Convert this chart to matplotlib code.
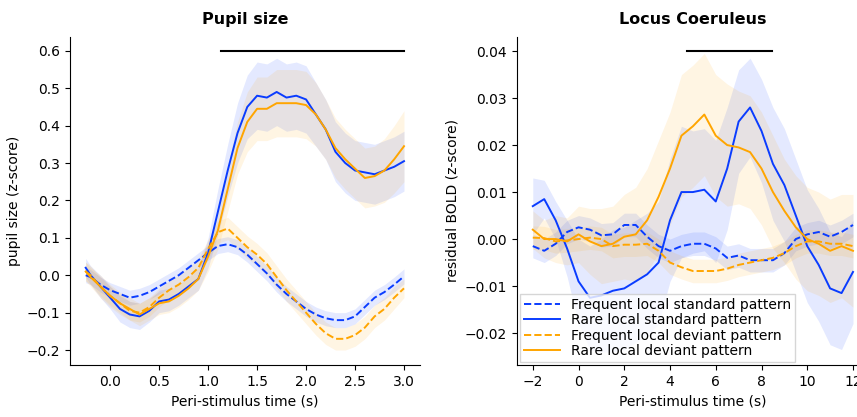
import numpy as np
import matplotlib
matplotlib.use("Agg")
import matplotlib.pyplot as plt  # noqa: E402

BLUE = "#0a3cff"
ORANGE = "#ffa500"

# --- pupil size (time step 0.1 s) ---
pupil_t = np.round(np.arange(-0.2, 3.01, 0.1), 2)
pupil_t = np.concatenate([[-0.25], pupil_t])

pupil_freq_std = [0.0, -0.005, -0.025, -0.04, -0.05, -0.06, -0.055, -0.045, -0.03, -0.015, 0.0,
                  0.02, 0.04, 0.06, 0.078, 0.083, 0.075, 0.055, 0.03, 0.005, -0.025, -0.05,
                  -0.07, -0.09, -0.105, -0.115, -0.12, -0.12, -0.11, -0.085, -0.06, -0.045,
                  -0.025, -0.003]
pupil_rare_std = [0.02, 0.0, -0.03, -0.06, -0.09, -0.105, -0.11, -0.095, -0.07, -0.065, -0.05,
                  -0.03, -0.01, 0.06, 0.17, 0.28, 0.38, 0.45, 0.48, 0.475, 0.49, 0.475, 0.48,
                  0.47, 0.43, 0.39, 0.33, 0.30, 0.28, 0.275, 0.27, 0.28, 0.29, 0.305]
pupil_freq_dev = [0.01, 0.0, -0.03, -0.055, -0.075, -0.095, -0.1, -0.085, -0.06, -0.04, -0.025,
                  -0.005, 0.02, 0.07, 0.115, 0.125, 0.10, 0.075, 0.055, 0.03, -0.005, -0.04,
                  -0.07, -0.1, -0.13, -0.155, -0.17, -0.17, -0.16, -0.14, -0.11, -0.09,
                  -0.06, -0.035]
pupil_rare_dev = [0.01, -0.005, -0.03, -0.055, -0.075, -0.09, -0.105, -0.09, -0.075, -0.07,
                  -0.055, -0.035, -0.01, 0.05, 0.12, 0.23, 0.34, 0.41, 0.445, 0.445, 0.46,
                  0.46, 0.46, 0.455, 0.43, 0.39, 0.34, 0.31, 0.285, 0.26, 0.265, 0.28, 0.31,
                  0.345]

pupil_freq_std_err = [0.02, 0.02, 0.02, 0.02, 0.02, 0.02, 0.02, 0.02, 0.02, 0.02, 0.02, 0.02,
                      0.02, 0.02, 0.02, 0.02, 0.02, 0.02, 0.02, 0.02, 0.02, 0.02, 0.02, 0.02,
                      0.02, 0.02, 0.02, 0.02, 0.02, 0.02, 0.02, 0.02, 0.02, 0.02]
pupil_rare_std_err = [0.025, 0.025, 0.03, 0.03, 0.035, 0.035, 0.035, 0.03, 0.03, 0.03, 0.03,
                      0.03, 0.03, 0.04, 0.06, 0.07, 0.08, 0.085, 0.09, 0.09, 0.09, 0.09, 0.09,
                      0.09, 0.085, 0.08, 0.08, 0.08, 0.08, 0.08, 0.08, 0.08, 0.08, 0.08]
pupil_freq_dev_err = [0.025, 0.025, 0.025, 0.025, 0.025, 0.025, 0.025, 0.025, 0.025, 0.025,
                      0.025, 0.025, 0.025, 0.025, 0.03, 0.03, 0.03, 0.03, 0.03, 0.03, 0.03,
                      0.03, 0.03, 0.03, 0.03, 0.03, 0.03, 0.03, 0.03, 0.03, 0.03, 0.03, 0.03,
                      0.025]
pupil_rare_dev_err = [0.025, 0.025, 0.03, 0.03, 0.03, 0.03, 0.03, 0.03, 0.03, 0.03, 0.03, 0.03,
                      0.03, 0.04, 0.05, 0.06, 0.07, 0.08, 0.085, 0.085, 0.09, 0.09, 0.09, 0.09,
                      0.085, 0.08, 0.08, 0.08, 0.08, 0.08, 0.08, 0.085, 0.09, 0.095]

pupil_sig = [1.13, 3.0]
pupil_sig_y = 0.6

# --- locus coeruleus (time step 0.5 s) ---
lc_t = np.arange(-2.0, 12.01, 0.5)

lc_freq_std = [-0.0015, -0.0025, -0.001, 0.0015, 0.0025, 0.002, 0.0008, 0.001, 0.003, 0.003,
               0.0005, -0.0015, -0.0025, -0.0015, -0.001, -0.001, -0.002, -0.004, -0.0035,
               -0.0045, -0.0045, -0.0045, -0.003, 0.0, 0.001, 0.0015, 0.0005, 0.0015, 0.003]
lc_rare_std = [0.007, 0.0085, 0.004, -0.002, -0.009, -0.0125, -0.012, -0.011, -0.0105,
               -0.009, -0.0075, -0.005, 0.004, 0.010, 0.010, 0.0105, 0.008, 0.015, 0.025,
               0.028, 0.023, 0.016, 0.0115, 0.005, -0.0015, -0.0055, -0.0105, -0.0115, -0.007]
lc_freq_dev = [0.0003, 0.0002, -0.0005, -0.0003, 0.0, 0.0003, 0.0, -0.0015, -0.0012, -0.0012,
               -0.001, -0.0025, -0.005, -0.006, -0.0068, -0.0068, -0.0068, -0.0063, -0.0055,
               -0.005, -0.0045, -0.004, -0.003, -0.0015, -0.0005, -0.0005, -0.001, -0.001,
               -0.0015]
lc_rare_dev = [0.002, 0.0, 0.0, -0.0005, 0.001, -0.0005, -0.0015, -0.001, 0.0005, 0.001,
               0.004, 0.009, 0.015, 0.022, 0.024, 0.0265, 0.022, 0.020, 0.0195, 0.0185, 0.015,
               0.010, 0.006, 0.0025, 0.0, -0.001, -0.0025, -0.0015, -0.0025]

lc_freq_std_err = [0.0025] * 29
lc_rare_std_err = [0.006, 0.004, 0.004, 0.006, 0.009, 0.011, 0.012, 0.013, 0.013, 0.013,
                   0.013, 0.013, 0.013, 0.014, 0.013, 0.013, 0.013, 0.013, 0.011, 0.0105,
                   0.011, 0.012, 0.012, 0.012, 0.012, 0.012, 0.012, 0.012, 0.011]
lc_freq_dev_err = [0.0025] * 29
lc_rare_dev_err = [0.004, 0.004, 0.005, 0.005, 0.006, 0.007, 0.008, 0.008, 0.009, 0.010,
                   0.011, 0.012, 0.012, 0.013, 0.013, 0.013, 0.013, 0.013, 0.012, 0.012,
                   0.012, 0.012, 0.011, 0.011, 0.011, 0.011, 0.011, 0.011, 0.012]

lc_sig = [4.75, 8.45]
lc_sig_y = 0.04

labels = ["Frequent local standard pattern", "Rare local standard pattern",
          "Frequent local deviant pattern", "Rare local deviant pattern"]
colors = [BLUE, BLUE, ORANGE, ORANGE]
styles = ["--", "-", "--", "-"]

plt.rcParams["font.family"] = ["DejaVu Sans"]
plt.rcParams["font.size"] = 10

fig = plt.figure(figsize=(8.57, 4.17), dpi=100)
ax1 = fig.add_axes([0.0817, 0.1247, 0.408, 0.7866])
ax2 = fig.add_axes([0.603, 0.1247, 0.411, 0.7866])


def draw(ax, t, means, errs):
    for m, e, c, ls, lab in zip(means, errs, colors, styles, labels):
        m = np.asarray(m)
        e = np.asarray(e)
        ax.fill_between(t, m - e, m + e, color=c, alpha=0.11, linewidth=0)
        ax.plot(t, m, color=c, linestyle=ls, linewidth=1.4, label=lab)


draw(ax1, pupil_t,
     [pupil_freq_std, pupil_rare_std, pupil_freq_dev, pupil_rare_dev],
     [pupil_freq_std_err, pupil_rare_std_err, pupil_freq_dev_err, pupil_rare_dev_err])
ax1.plot(pupil_sig, [pupil_sig_y, pupil_sig_y], color="black", linewidth=1.5)
ax1.set_xlim(-0.41, 3.16)
ax1.set_ylim(-0.24, 0.637)
ax1.set_xticks([0.0, 0.5, 1.0, 1.5, 2.0, 2.5, 3.0])
ax1.set_yticks(np.arange(-0.2, 0.61, 0.1))
ax1.set_title("Pupil size", fontweight="bold", fontsize=11.5, pad=9)
ax1.set_xlabel("Peri-stimulus time (s)")
ax1.set_ylabel("pupil size (z-score)")

draw(ax2, lc_t,
     [lc_freq_std, lc_rare_std, lc_freq_dev, lc_rare_dev],
     [lc_freq_std_err, lc_rare_std_err, lc_freq_dev_err, lc_rare_dev_err])
ax2.plot(lc_sig, [lc_sig_y, lc_sig_y], color="black", linewidth=1.5)
ax2.set_xlim(-2.7, 12.7)
ax2.set_ylim(-0.0268, 0.043)
ax2.set_xticks([-2, 0, 2, 4, 6, 8, 10, 12])
ax2.set_yticks(np.arange(-0.02, 0.041, 0.01))
ax2.set_title("Locus Coeruleus", fontweight="bold", fontsize=11.5, pad=9)
ax2.set_xlabel("Peri-stimulus time (s)")
ax2.set_ylabel("residual BOLD (z-score)")
ax2.legend(loc="lower left", fontsize=10, handlelength=2.6, borderaxespad=0.2,
           labelspacing=0.1, borderpad=0.3, fancybox=False)

for ax in (ax1, ax2):
    ax.spines["top"].set_visible(False)
    ax.spines["right"].set_visible(False)

fig.savefig("out.png", dpi=100, facecolor="white")
